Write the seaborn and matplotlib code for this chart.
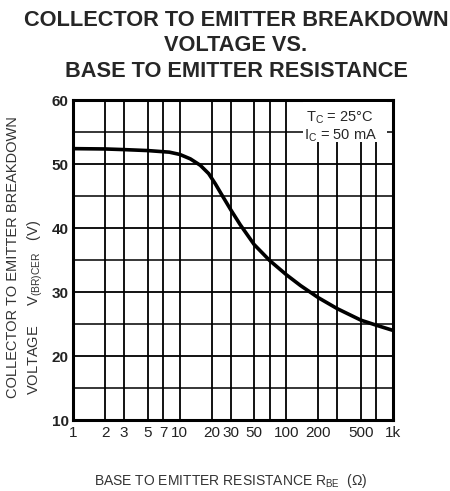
import numpy as np
import pandas as pd
import matplotlib
matplotlib.use("Agg")
import matplotlib.pyplot as plt
import seaborn as sns

# Data
r_be = [1, 2, 3, 5, 8, 10, 12.6, 15.6, 18.7, 21.6, 25, 30, 37, 50, 70, 100, 136, 200, 300, 500, 700, 1000]
v_br = [52.4, 52.35, 52.25, 52.1, 51.85, 51.5, 50.8, 49.8, 48.5, 46.9, 45.1, 42.9, 40.5, 37.4, 34.9, 32.7, 31.0, 29.1, 27.4, 25.6, 24.8, 24.0]

x_grid = [1, 2, 3, 5, 7, 10, 20, 30, 50, 70, 100, 200, 300, 500, 700, 1000]
x_ticks = [1, 2, 3, 5, 7, 10, 20, 30, 50, 100, 200, 500, 1000]
x_ticklabels = ["1", "2", "3", "5", "7", "10", "20", "30", "50", "100", "200", "500", "1k"]
y_ticks = [10, 20, 30, 40, 50, 60]
y_grid = [10, 15, 20, 25, 30, 35, 40, 45, 50, 55, 60]

title = "COLLECTOR TO EMITTER BREAKDOWN\nVOLTAGE VS.\nBASE TO EMITTER RESISTANCE"

sns.set_style("white")
plt.rcParams['font.family'] = ['Liberation Sans', 'DejaVu Sans']
plt.rcParams['mathtext.fontset'] = 'custom'
plt.rcParams['mathtext.rm'] = 'Liberation Sans'

df = pd.DataFrame({"R": r_be, "V": v_br})

fig = plt.figure(figsize=(4.5, 4.91), dpi=100)
ax = fig.add_axes([73/450, 71/491, 320/450, 320/491])

for xv in x_grid:
    ax.axvline(xv, color="black", lw=1.3, zorder=1)
for yv in y_grid:
    ax.axhline(yv, color="black", lw=1.3 if yv % 10 == 0 else 1.1, zorder=1)

sns.lineplot(data=df, x="R", y="V", ax=ax, color="black", lw=2.6, zorder=5)

ax.set_xscale("log")
ax.set_xlim(1, 1000)
ax.set_ylim(10, 60)
ax.set_xticks(x_ticks)
ax.set_xticklabels(x_ticklabels)
ax.xaxis.set_minor_locator(matplotlib.ticker.NullLocator())
ax.set_yticks(y_ticks)
ax.tick_params(axis="both", length=0, labelsize=11, colors="#222222")
ax.tick_params(axis="x", pad=4)
ax.tick_params(axis="y", pad=3)
for lab in ax.get_yticklabels():
    lab.set_fontweight("bold")
for s in ax.spines.values():
    s.set_linewidth(2.2)
    s.set_color("black")
ax.set_xlabel("")
ax.set_ylabel("")

# annotation box
ax.add_patch(plt.Rectangle((0.72, 0.87), 0.26, 0.125, transform=ax.transAxes,
                           facecolor="white", edgecolor="none", zorder=3))
ax.text(0.835, 0.945, "T$_{\\mathrm{C}}$ = 25°C", transform=ax.transAxes, ha="center",
        va="center", fontsize=10.5, zorder=6)
ax.text(0.835, 0.89, "I$_{\\mathrm{C}}$ = 50 mA", transform=ax.transAxes, ha="center",
        va="center", fontsize=10.5, zorder=6)

fig.text(236/450, 1 - 10/491, title, ha="center", va="top", fontsize=15.7, fontweight="bold",
         linespacing=1.28)
fig.text(231/450, 1 - 481/491, "BASE TO EMITTER RESISTANCE R$_{\\mathrm{BE}}$  (Ω)",
         ha="center", va="center", fontsize=10, color="#333333")
fig.text(13/450, 1 - 257/491, "COLLECTOR TO EMITTER BREAKDOWN", rotation=90,
         ha="center", va="center", fontsize=10.5, color="#333333")
fig.text(35/450, 1 - 395/491, "VOLTAGE     V$_{\\mathrm{(BR)CER}}$   (V)", rotation=90,
         ha="center", va="bottom", fontsize=10.5, color="#333333")

fig.savefig("out.png", dpi=100)
